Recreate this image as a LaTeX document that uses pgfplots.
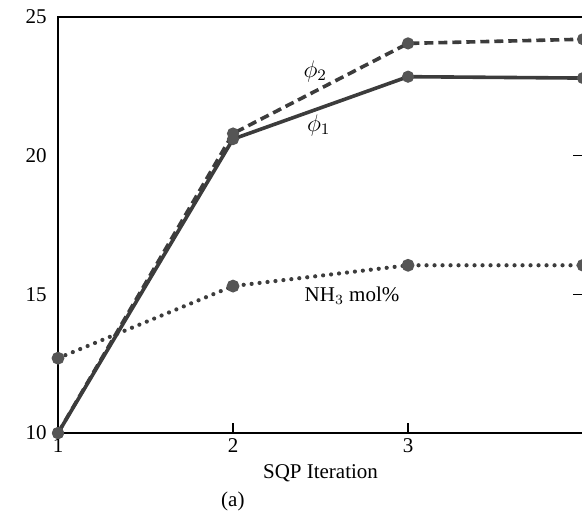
\documentclass[border=0pt]{standalone}
\usepackage{pgfplots}
\pgfplotsset{compat=1.18}
\usepackage{fontspec}
\setmainfont{Liberation Serif}
\definecolor{ln}{HTML}{3C3C3C}
\definecolor{mk}{HTML}{555555}
\begin{document}
\fontsize{10.5}{12}\selectfont
\begin{tikzpicture}
\begin{axis}[
  scale only axis,
  width=262.5pt, height=208pt,
  xmin=1, xmax=4, ymin=10, ymax=25,
  xtick={1,2,3}, ytick={10,15,20,25},
  tick align=inside,
  xtick pos=bottom, ytick pos=right,
  yticklabel pos=left, xticklabel pos=bottom,
  major tick length=5pt,
  tick style={black, line width=0.6pt},
  axis line style={black, line width=0.7pt},
  /pgf/number format/assume math mode=true,
  ticklabel style={font=\fontsize{10.5}{12}\selectfont},
  xticklabel style={yshift=1pt},
  yticklabel style={xshift=-2pt},
  xlabel={SQP Iteration},
  xlabel style={font=\fontsize{10.5}{12}\selectfont, yshift=1pt},
  clip=false,
  every axis plot/.append style={line width=1.8pt, color=ln,
     mark=*, mark size=2.1pt, mark options={solid, fill=mk, draw=mk}},
]
\addplot[solid] coordinates {(1,10) (2,20.6) (3,22.85) (4,22.8)};
\addplot[dash pattern=on 4.5pt off 2.5pt] coordinates {(1,10) (2,20.8) (3,24.05) (4,24.2)};
\addplot[line width=2.1pt, line cap=round, dash pattern=on 0pt off 4pt] coordinates {(1,12.7) (2,15.3) (3,16.05) (4,16.05)};
\node at (axis cs:2.47,23.05) {\large$\phi_2$};
\node at (axis cs:2.49,21.1) {\large$\phi_1$};
\node at (axis cs:2.68,14.95) {NH$_3$ mol\%};
\node at (rel axis cs:0.333,-0.165) {(a)};
\coordinate (bl) at (rel axis cs:-0.1105,-0.1995);
\coordinate (tr) at (rel axis cs:0.998,1.041);
\end{axis}
\pgfresetboundingbox
\useasboundingbox (bl) rectangle (tr);
\end{tikzpicture}
\end{document}
